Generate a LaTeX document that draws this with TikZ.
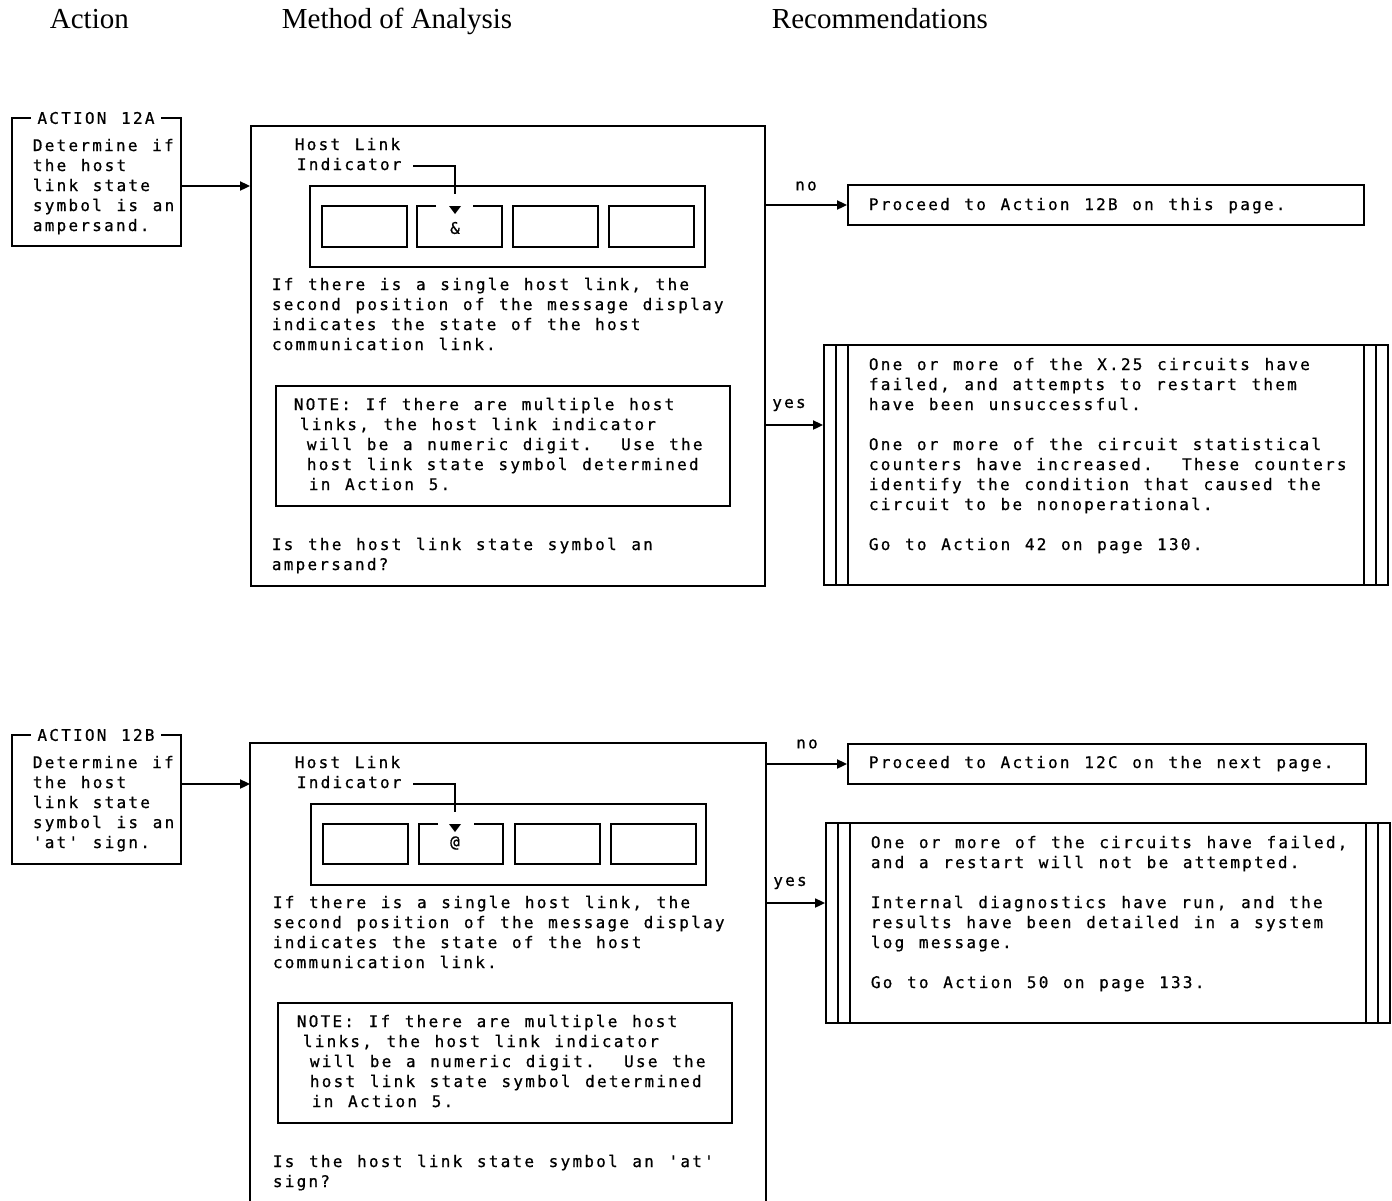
\documentclass[tikz,border=0pt]{standalone}
\usepackage{fontspec}
\setmainfont{Liberation Serif}
\newfontfamily\ibmfont{DejaVu Sans Mono}[LetterSpace=14,WordSpace=1.235,Ligatures=TeXOff,FakeBold=0.7]
\usepackage{tikz}
\usetikzlibrary{arrows.meta, positioning, fit}

\tikzset{
  txt/.style={font=\ibmfont\fontsize{8}{10}\selectfont\frenchspacing, align=left, anchor=base west, inner sep=0},
  head/.style={font=\fontsize{14.5}{16}\selectfont, anchor=base west, inner sep=0},
  frame/.style={draw, line width=0.9pt, inner sep=0},
  flow/.style={-{Triangle[length=5pt,width=4.5pt]}, line width=0.9pt},
}

\begin{document}
\begin{tikzpicture}[x=0.5pt, y=-0.5pt, line width=0.9pt]
  \useasboundingbox (0,0) rectangle (1392,1200);
  % column heads
  \node[head] (hact) at (49,28) {Action};
  \node[head] (hmeth) at (281,28) {Method of Analysis};
  \node[head] (hrec) at (771,28) {Recommendations};

  % action 12A (text nodes sit on the baseline of their last line)
  \node[frame, fit={(12,118)(181,246)}] (a1) {};
  \node[txt, anchor=center, fill=white, inner xsep=3pt] (a1t) at (96,118) {ACTION 12A};
  \node[txt] (a1x) at (32,231) {Determine if\\the host\\link state\\symbol is an\\ampersand.};
  \node[frame, fit={(251,126)(765,586)}] (m1) {};
  \coordinate (a1o) at (181,186);
  \draw[flow] (a1o) -- (a1o -| m1.west);
  \node[txt] (hl1) at (294,170) {Host Link\\\hspace{1pt}Indicator};
  \node[frame, fit={(310,186)(705,267)}] (d1) {};
  \foreach \x in {322,513,609} \draw (\x,206) rectangle ++(85,41);
  \draw (436,206) -- (417,206) -- (417,247) -- (502,247) -- (502,206) -- (473,206);
  \coordinate (p1) at (413,166);
  \draw (p1) -| (455,194);
  \fill (449,206) -- (461,206) -- (455,214) -- cycle;
  \node[txt, anchor=center] (s1) at (455,228) {\&};
  \node[txt] (q1) at (271,350) {If there is a single host link, the\\second position of the message display\\indicates the state of the host\\communication link.};
  \node[frame, fit={(276,386)(730,506)}] (n1) {};
  \node[txt] (n1x) at (293,490) {NOTE: If there are multiple host\\\hspace{3pt}links, the host link indicator\\\hspace{6.5pt}will be a numeric digit.~ Use the\\\hspace{6.5pt}host link state symbol determined\\\hspace{7.5pt}in Action 5.};
  \node[txt] (q1b) at (271,570) {Is the host link state symbol an\\ampersand?};

  % recommendations 12A
  \node[frame, fit={(848,185)(1364,225)}] (r1) {};
  \node[txt] (r1x) at (868,210) {Proceed to Action 12B on this page.};
  \draw[flow] (r1.west -| m1.east) -- (r1.west);
  \node[txt, anchor=center] (no1) at (806,186) {no};
  \node[frame, fit={(824,345)(1388,585)}] (r2) {};
  \foreach \x in {836,848,1364,1376} \draw (\x,345) -- (\x,585);
  \coordinate (y1) at (765,425);
  \draw[flow] (y1) -- (y1 -| r2.west);
  \node[txt, anchor=center] (yes1) at (789,405) {yes};
  \node[txt] (r2x) at (868,550) {One or more of the X.25 circuits have\\failed, and attempts to restart them\\have been unsuccessful.\\[10pt]One or more of the circuit statistical\\counters have increased.~ These counters\\identify the condition that caused the\\circuit to be nonoperational.\\[10pt]Go to Action 42 on page 130.};

  % action 12B
  \node[frame, fit={(12,735)(181,864)}] (a2) {};
  \node[txt, anchor=center, fill=white, inner xsep=3pt] (a2t) at (96,735) {ACTION 12B};
  \node[txt] (a2x) at (32,848) {Determine if\\the host\\link state\\symbol is an\\'at' sign.};
  \node[fit={(251,744)(765,1200)}, inner sep=0] (m2) {};
  \draw (m2.south west) -- (m2.north west) -- (m2.north east) -- (m2.south east);
  \coordinate (a2o) at (181,784);
  \draw[flow] (a2o) -- (a2o -| m2.west);
  \node[txt] (hl2) at (294,788) {Host Link\\\hspace{1pt}Indicator};
  \node[frame, fit={(311,804)(706,885)}] (d2) {};
  \foreach \x in {323,515,611} \draw (\x,824) rectangle ++(85,40);
  \draw (438,824) -- (419,824) -- (419,864) -- (503,864) -- (503,824) -- (474,824);
  \coordinate (p2) at (413,784);
  \draw (p2) -| (455,812);
  \fill (449,824) -- (461,824) -- (455,832) -- cycle;
  \node[txt, anchor=center] (s2) at (455,843) {@};
  \node[txt] (q2) at (272,968) {If there is a single host link, the\\second position of the message display\\indicates the state of the host\\communication link.};
  \node[frame, fit={(278,1003)(732,1123)}] (n2) {};
  \node[txt] (n2x) at (296,1107) {NOTE: If there are multiple host\\\hspace{3pt}links, the host link indicator\\\hspace{6.5pt}will be a numeric digit.~ Use the\\\hspace{6.5pt}host link state symbol determined\\\hspace{7.5pt}in Action 5.};
  \node[txt] (q2b) at (272,1187) {Is the host link state symbol an 'at'\\sign?};

  % recommendations 12B
  \node[frame, fit={(848,744)(1366,784)}] (r3) {};
  \node[txt] (r3x) at (868,768) {Proceed to Action 12C on the next page.};
  \draw[flow] (r3.west -| m2.east) -- (r3.west);
  \node[txt, anchor=center] (no2) at (807,744) {no};
  \node[frame, fit={(826,823)(1390,1023)}] (r4) {};
  \foreach \x in {838,850,1366,1378} \draw (\x,823) -- (\x,1023);
  \coordinate (y2) at (765,903);
  \draw[flow] (y2) -- (y2 -| r4.west);
  \node[txt, anchor=center] (yes2) at (790,883) {yes};
  \node[txt] (r4x) at (870,988) {One or more of the circuits have failed,\\and a restart will not be attempted.\\[10pt]Internal diagnostics have run, and the\\results have been detailed in a system\\log message.\\[10pt]Go to Action 50 on page 133.};
\end{tikzpicture}
\end{document}
